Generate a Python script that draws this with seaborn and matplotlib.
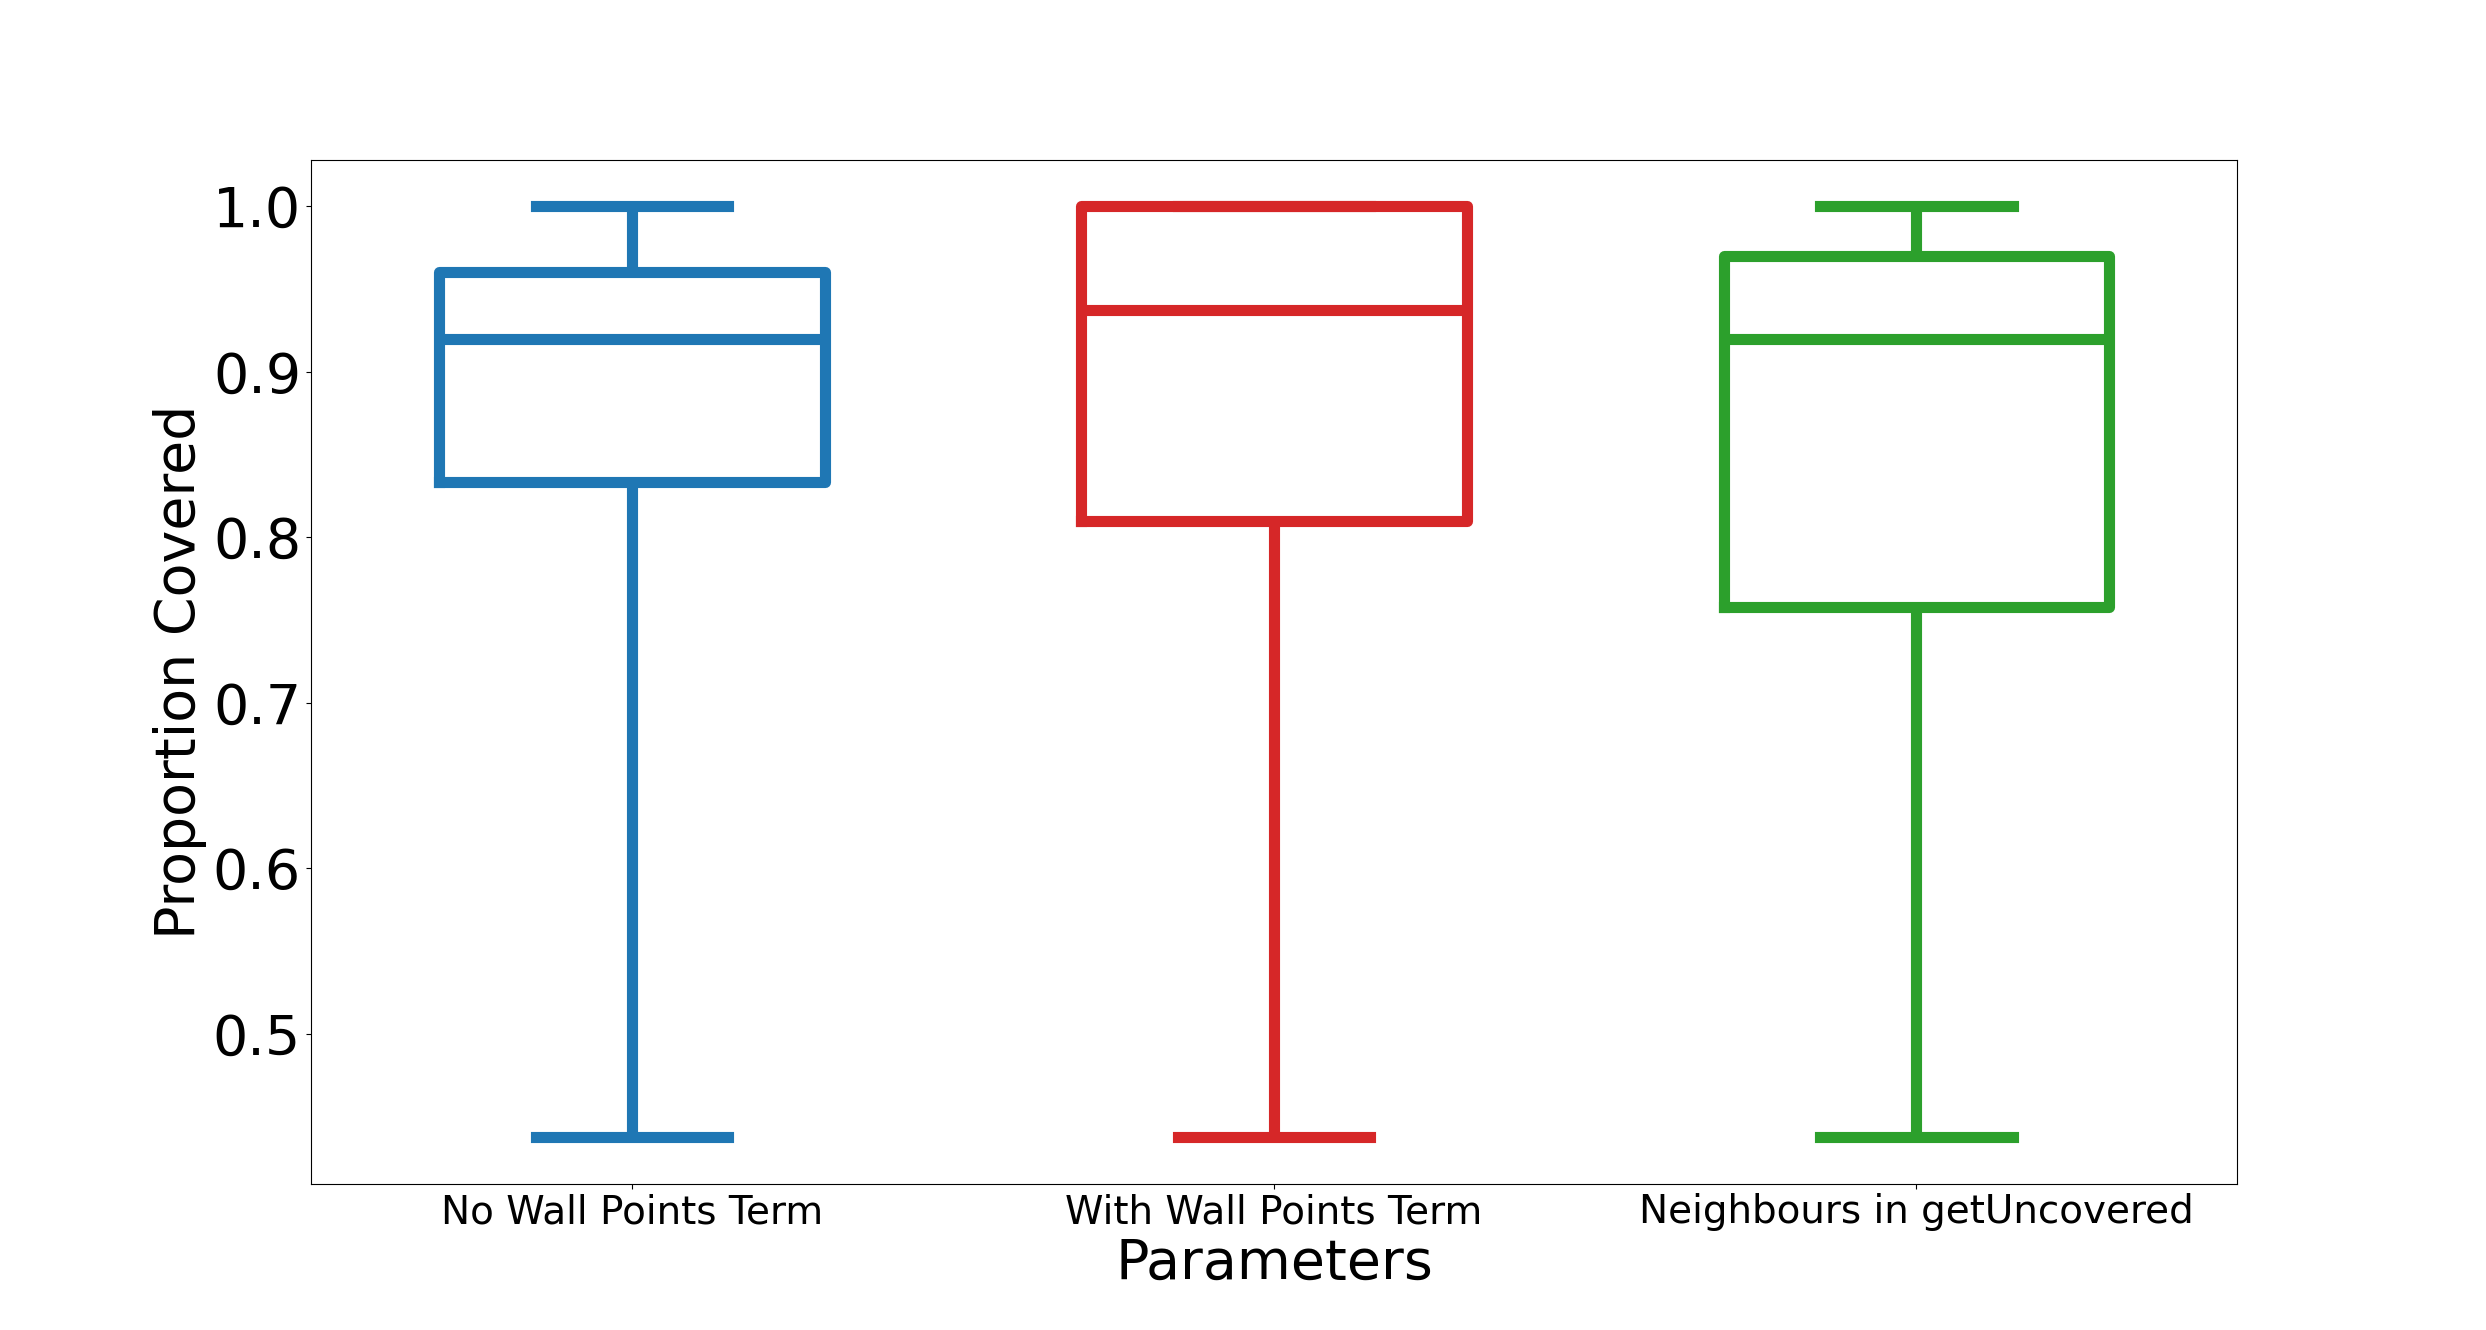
import pandas as pd
import matplotlib
matplotlib.use("Agg")
import matplotlib.pyplot as plt
import seaborn as sns

# Parameter settings compared in the runs
params = ["No Wall Points Term", "With Wall Points Term", "Neighbours in getUncovered"]

# Proportion covered per run (min, q1, median, q3, max)
no_wall = [0.4375, 0.8333, 0.92, 0.96, 1.0]
with_wall = [0.4375, 0.81, 0.9375, 1.0, 1.0]
neighbours = [0.4375, 0.7576, 0.92, 0.97, 1.0]

colors = ["tab:blue", "tab:red", "tab:green"]


def main():
    df = pd.DataFrame({
        "Parameters": [params[0]] * len(no_wall) + [params[1]] * len(with_wall)
                      + [params[2]] * len(neighbours),
        "Proportion Covered": no_wall + with_wall + neighbours,
    })

    fig, ax = plt.subplots(figsize=(24.86, 13.3), dpi=100)
    sns.boxplot(data=df, x="Parameters", y="Proportion Covered", hue="Parameters",
                palette=colors, order=params, fill=False, width=0.6, whis=(0, 100),
                linewidth=8, saturation=1, legend=False, ax=ax)

    ax.tick_params(axis="y", labelsize=40)
    ax.tick_params(axis="x", labelsize=28)
    ax.set_xlabel("Parameters", fontsize=40)
    ax.set_ylabel("Proportion Covered", fontsize=40)

    fig.savefig("out.png", dpi=100)
    plt.close(fig)


if __name__ == "__main__":
    main()
